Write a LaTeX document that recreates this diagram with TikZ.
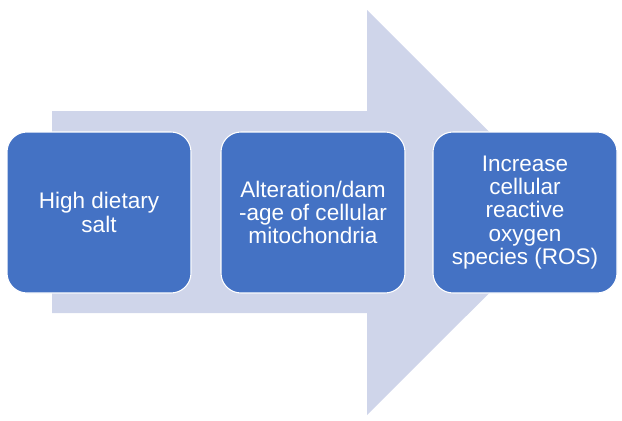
\documentclass[tikz,border=0pt]{standalone}
\usepackage{fontspec}
\setmainfont{Liberation Sans}
\definecolor{boxblue}{HTML}{4472C4}
\definecolor{arrowfill}{HTML}{CFD5EA}
\begin{document}
\begin{tikzpicture}[x=0.75pt,y=-0.75pt,
  stagebox/.style={rectangle, rounded corners=15pt, fill=boxblue, draw=white, line width=0.8pt,
    minimum width=138pt, minimum height=120.75pt, inner sep=0pt,
    text=white, align=center, font=\fontsize{16.9pt}{17.5pt}\selectfont}]
\useasboundingbox (0,0) rectangle (622,421);
\fill[arrowfill] (52,111) -- (367,111) -- (367,10) -- (570,212.5) -- (367,415) -- (367,313) -- (52,313) -- cycle;
\node[stagebox] (b1) at (99,212.5) {High dietary\\salt};
\node[stagebox] (b2) at (313,212.5) {Alteration/dam\\-age of cellular\\mitochondria};
\node[stagebox] (b3) at (525,212.5) {Increase\\cellular\\reactive\\oxygen\\species (ROS)};
\end{tikzpicture}
\end{document}
